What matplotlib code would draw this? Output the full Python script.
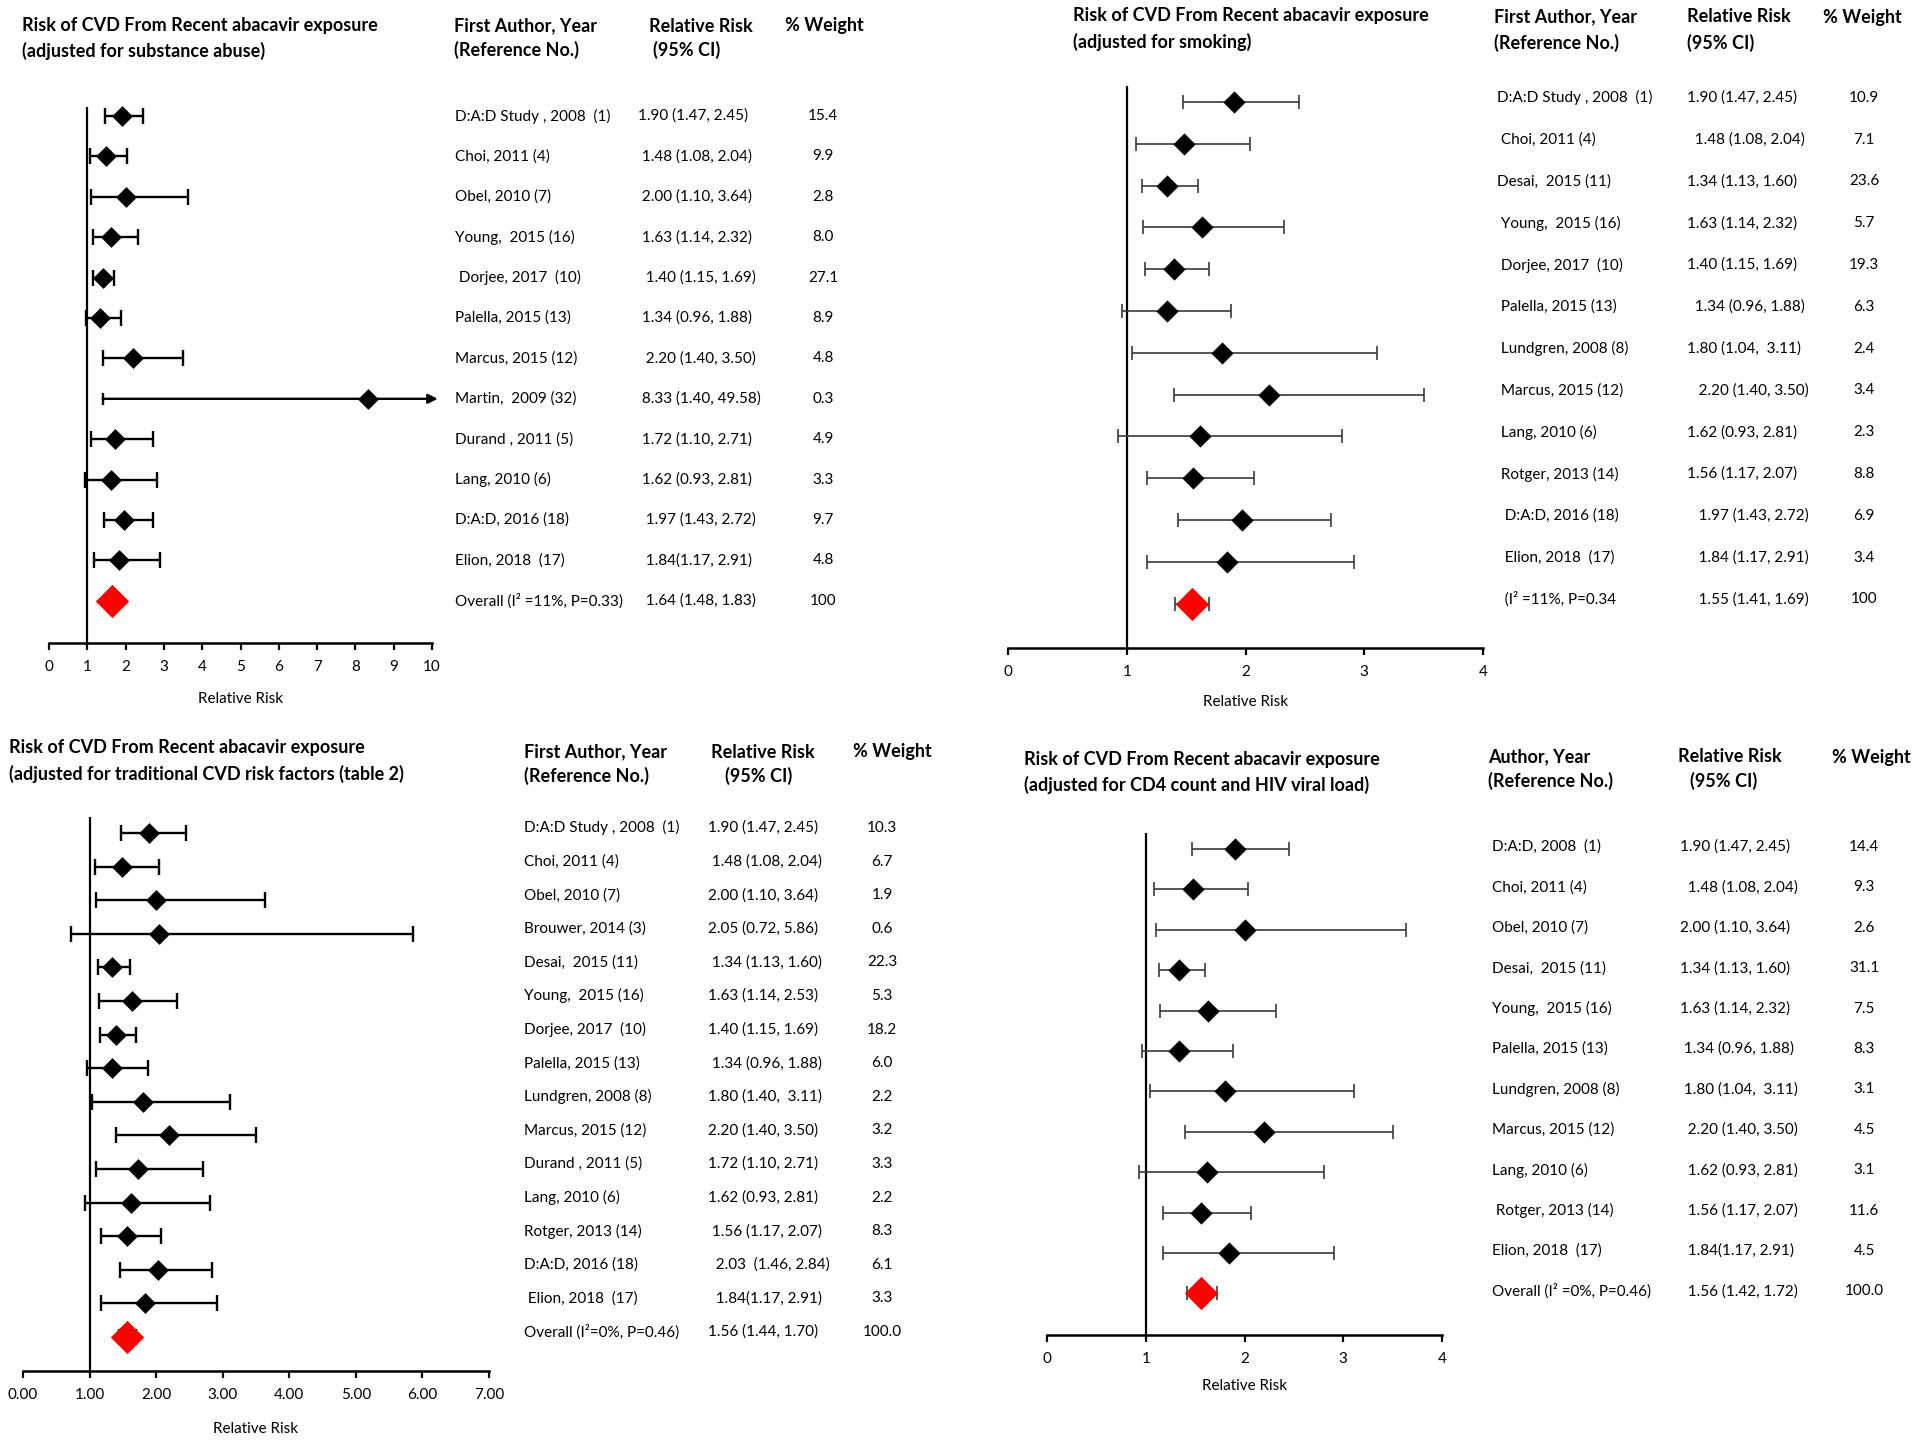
import matplotlib
matplotlib.use("Agg")
import matplotlib.pyplot as plt
import matplotlib.transforms as mtransforms
from matplotlib.ticker import FormatStrFormatter

plt.rcParams['font.family'] = ['Lato', 'DejaVu Sans']

W, H = 1920, 1442

# ---------------- data ----------------
# panel 1: adjusted for substance abuse
study1 = ["D:A:D Study , 2008  (1)", "Choi, 2011 (4)", "Obel, 2010 (7)", "Young,  2015 (16)",
          " Dorjee, 2017  (10)", "Palella, 2015 (13)", "Marcus, 2015 (12)", "Martin,  2009 (32)",
          "Durand , 2011 (5)", "Lang, 2010 (6)", "D:A:D, 2016 (18)", "Elion, 2018  (17)",
          "Overall (I² =11%, P=0.33)"]
rr1 = [1.90, 1.48, 2.00, 1.63, 1.40, 1.34, 2.20, 8.33, 1.72, 1.62, 1.97, 1.84, 1.64]
lo1 = [1.47, 1.08, 1.10, 1.14, 1.15, 0.96, 1.40, 1.40, 1.10, 0.93, 1.43, 1.17, 1.48]
hi1 = [2.45, 2.04, 3.64, 2.32, 1.69, 1.88, 3.50, 49.58, 2.71, 2.81, 2.72, 2.91, 1.83]
ci1 = ["1.90 (1.47, 2.45)", " 1.48 (1.08, 2.04)", " 2.00 (1.10, 3.64)", " 1.63 (1.14, 2.32)",
       "  1.40 (1.15, 1.69)", " 1.34 (0.96, 1.88)", "  2.20 (1.40, 3.50)", " 8.33 (1.40, 49.58)",
       " 1.72 (1.10, 2.71)", " 1.62 (0.93, 2.81)", "  1.97 (1.43, 2.72)", "  1.84(1.17, 2.91)",
       "  1.64 (1.48, 1.83)"]
wt1 = ["15.4", "9.9", "2.8", "8.0", "27.1", "8.9", "4.8", "0.3", "4.9", "3.3", "9.7", "4.8", "100"]

# panel 2: adjusted for smoking
study2 = ["D:A:D Study , 2008  (1)", " Choi, 2011 (4)", "Desai,  2015 (11)", " Young,  2015 (16)",
          " Dorjee, 2017  (10)", " Palella, 2015 (13)", " Lundgren, 2008 (8)", " Marcus, 2015 (12)",
          " Lang, 2010 (6)", " Rotger, 2013 (14)", "  D:A:D, 2016 (18)", "  Elion, 2018  (17)",
          "  (I² =11%, P=0.34"]
rr2 = [1.90, 1.48, 1.34, 1.63, 1.40, 1.34, 1.80, 2.20, 1.62, 1.56, 1.97, 1.84, 1.55]
lo2 = [1.47, 1.08, 1.13, 1.14, 1.15, 0.96, 1.04, 1.40, 0.93, 1.17, 1.43, 1.17, 1.41]
hi2 = [2.45, 2.04, 1.60, 2.32, 1.69, 1.88, 3.11, 3.50, 2.81, 2.07, 2.72, 2.91, 1.69]
ci2 = ["1.90 (1.47, 2.45)", "  1.48 (1.08, 2.04)", "1.34 (1.13, 1.60)", "1.63 (1.14, 2.32)",
       "1.40 (1.15, 1.69)", "  1.34 (0.96, 1.88)", "1.80 (1.04,  3.11)", "   2.20 (1.40, 3.50)",
       "1.62 (0.93, 2.81)", "1.56 (1.17, 2.07)", "   1.97 (1.43, 2.72)", "   1.84 (1.17, 2.91)",
       "   1.55 (1.41, 1.69)"]
wt2 = ["10.9", "7.1", "23.6", "5.7", "19.3", "6.3", "2.4", "3.4", "2.3", "8.8", "6.9", "3.4", "100"]

# panel 3: adjusted for traditional CVD risk factors
study3 = ["D:A:D Study , 2008  (1)", "Choi, 2011 (4)", "Obel, 2010 (7)", "Brouwer, 2014 (3)",
          "Desai,  2015 (11)", "Young,  2015 (16)", "Dorjee, 2017  (10)", "Palella, 2015 (13)",
          "Lundgren, 2008 (8)", "Marcus, 2015 (12)", "Durand , 2011 (5)", "Lang, 2010 (6)",
          "Rotger, 2013 (14)", "D:A:D, 2016 (18)", " Elion, 2018  (17)", "Overall (I²=0%, P=0.46)"]
rr3 = [1.90, 1.48, 2.00, 2.05, 1.34, 1.63, 1.40, 1.34, 1.80, 2.20, 1.72, 1.62, 1.56, 2.03, 1.84, 1.56]
lo3 = [1.47, 1.08, 1.10, 0.72, 1.13, 1.14, 1.15, 0.96, 1.04, 1.40, 1.10, 0.93, 1.17, 1.46, 1.17, 1.44]
hi3 = [2.45, 2.04, 3.64, 5.86, 1.60, 2.32, 1.69, 1.88, 3.11, 3.50, 2.71, 2.81, 2.07, 2.84, 2.91, 1.70]
ci3 = ["1.90 (1.47, 2.45)", " 1.48 (1.08, 2.04)", "2.00 (1.10, 3.64)", "2.05 (0.72, 5.86)",
       " 1.34 (1.13, 1.60)", "1.63 (1.14, 2.53)", "1.40 (1.15, 1.69)", " 1.34 (0.96, 1.88)",
       "1.80 (1.40,  3.11)", "2.20 (1.40, 3.50)", "1.72 (1.10, 2.71)", "1.62 (0.93, 2.81)",
       " 1.56 (1.17, 2.07)", "  2.03  (1.46, 2.84)", "  1.84(1.17, 2.91)", "1.56 (1.44, 1.70)"]
wt3 = ["10.3", "6.7", "1.9", "0.6", "22.3", "5.3", "18.2", "6.0", "2.2", "3.2", "3.3", "2.2",
       "8.3", "6.1", "3.3", "100.0"]

# panel 4: adjusted for CD4 count and HIV viral load
study4 = ["D:A:D, 2008  (1)", "Choi, 2011 (4)", "Obel, 2010 (7)", "Desai,  2015 (11)",
          "Young,  2015 (16)", "Palella, 2015 (13)", "Lundgren, 2008 (8)", "Marcus, 2015 (12)",
          "Lang, 2010 (6)", " Rotger, 2013 (14)", "Elion, 2018  (17)", "Overall (I² =0%, P=0.46)"]
rr4 = [1.90, 1.48, 2.00, 1.34, 1.63, 1.34, 1.80, 2.20, 1.62, 1.56, 1.84, 1.56]
lo4 = [1.47, 1.08, 1.10, 1.13, 1.14, 0.96, 1.04, 1.40, 0.93, 1.17, 1.17, 1.42]
hi4 = [2.45, 2.04, 3.64, 1.60, 2.32, 1.88, 3.11, 3.50, 2.81, 2.07, 2.91, 1.72]
ci4 = ["1.90 (1.47, 2.45)", "  1.48 (1.08, 2.04)", "2.00 (1.10, 3.64)", "1.34 (1.13, 1.60)",
       "1.63 (1.14, 2.32)", " 1.34 (0.96, 1.88)", " 1.80 (1.04,  3.11)", "  2.20 (1.40, 3.50)",
       "  1.62 (0.93, 2.81)", "  1.56 (1.17, 2.07)", "  1.84(1.17, 2.91)", "  1.56 (1.42, 1.72)"]
wt4 = ["14.4", "9.3", "2.6", "31.1", "7.5", "8.3", "3.1", "4.5", "3.1", "11.6", "4.5", "100.0"]

titles = [("Risk of CVD From Recent abacavir exposure", "(adjusted for substance abuse)"),
          ("Risk of CVD From Recent abacavir exposure", "(adjusted for smoking)"),
          ("Risk of CVD From Recent abacavir exposure", "(adjusted for traditional CVD risk factors (table 2)"),
          ("Risk of CVD From Recent abacavir exposure", "(adjusted for CD4 count and HIV viral load)")]
head_author = [("First Author, Year", "(Reference No.)"), ("First Author, Year", "(Reference No.)"),
               ("First Author, Year", "(Reference No.)"), ("Author, Year", "(Reference No.)")]
head_rr = ("Relative Risk", "(95% CI)")
head_wt = "% Weight"

# ---------------- layout (pixels in the 1920x1442 canvas) ----------------
panels = [
    dict(study=study1, rr=rr1, lo=lo1, hi=hi1, ci=ci1, wt=wt1, xmax=10, fmt="%d",
         x0=49, x1=432, top=107, bottom=643, row0=116, step=40.4, toff=0.0,
         tx=22, ty=(26, 51), ax_=455, cx=638, wx=823,
         hpos=[(454, 26), (454, 50), (649, 26), (653, 50), (785, 26)],
         ms=15, red_ms=24, ecol="black", elw=1.7, cap=6, lpad=13),
    dict(study=study2, rr=rr2, lo=lo2, hi=hi2, ci=ci2, wt=wt2, xmax=4, fmt="%d",
         x0=1008, x1=1483, top=86, bottom=648, row0=102, step=41.8, toff=-0.1,
         tx=1073, ty=(16, 42), ax_=1497, cx=1687, wx=1864,
         hpos=[(1494, 17), (1494, 43), (1687, 17), (1687, 43), (1823, 17)],
         ms=16, red_ms=24, ecol="#3a3a3a", elw=1.2, cap=5, lpad=11),
    dict(study=study3, rr=rr3, lo=lo3, hi=hi3, ci=ci3, wt=wt3, xmax=7, fmt="%.2f",
         x0=23, x1=489, top=817, bottom=1371, row0=833, step=33.6, toff=-0.15,
         tx=9, ty=(748, 774), ax_=524, cx=708, wx=882,
         hpos=[(524, 752), (524, 776), (711, 752), (725, 776), (853, 752)],
         ms=15, red_ms=24, ecol="black", elw=1.7, cap=6, lpad=14),
    dict(study=study4, rr=rr4, lo=lo4, hi=hi4, ci=ci4, wt=wt4, xmax=4, fmt="%d",
         x0=1047, x1=1442, top=833, bottom=1335, row0=849, step=40.4, toff=-0.05,
         tx=1024, ty=(759, 785), ax_=1492, cx=1680, wx=1864,
         hpos=[(1488, 757), (1488, 781), (1678, 757), (1690, 781), (1832, 757)],
         ms=16, red_ms=24, ecol="#3a3a3a", elw=1.2, cap=5, lpad=9),
]

diamond = [(0, 1), (1, 0), (0, -1), (-1, 0), (0, 1)]

fig = plt.figure(figsize=(W / 100, H / 100), dpi=100)

for k, p in enumerate(panels):
    ax = fig.add_axes([p["x0"] / W, 1 - p["bottom"] / H,
                       (p["x1"] - p["x0"]) / W, (p["bottom"] - p["top"]) / H])
    n = len(p["rr"])
    rows = list(range(n))
    ax.set_xlim(0, p["xmax"])
    ax.set_ylim((p["bottom"] - p["row0"]) / p["step"], (p["top"] - p["row0"]) / p["step"])
    for s in ["left", "right", "top"]:
        ax.spines[s].set_visible(False)
    ax.spines["bottom"].set_linewidth(1.8)
    ax.set_yticks([])
    ax.set_xticks(range(0, p["xmax"] + 1))
    ax.xaxis.set_major_formatter(FormatStrFormatter(p["fmt"]))
    ax.tick_params(axis="x", direction="out", length=5, width=1.6, pad=7.5, labelsize=11)
    ax.set_xlabel("Relative Risk", fontsize=11, labelpad=p["lpad"])
    ax.patch.set_alpha(0)
    ax.axvline(1, color="black", lw=1.6, zorder=1)

    for i in rows:
        rr, lo, hi = p["rr"][i], p["lo"][i], p["hi"][i]
        if hi > p["xmax"]:
            # CI runs off the scale: draw an arrow instead
            ax.annotate("", xy=(p["xmax"] + 0.15, i), xytext=(lo, i),
                        arrowprops=dict(arrowstyle="-|>", color=p["ecol"], lw=p["elw"],
                                        mutation_scale=14, shrinkA=0, shrinkB=0),
                        annotation_clip=False)
            ax.plot([lo], [i], marker="|", ms=p["cap"] * 1.5, mew=p["elw"], color=p["ecol"])
        else:
            ax.errorbar([rr], [i], xerr=[[rr - lo], [hi - rr]], fmt="none",
                        ecolor=p["ecol"], elinewidth=p["elw"], capsize=p["cap"],
                        capthick=p["elw"], zorder=2, clip_on=False)
        last = i == n - 1
        ax.plot([rr], [i], marker=diamond, ms=p["red_ms"] if last else p["ms"],
                color="#ff0000" if last else "black", mew=0, zorder=3, clip_on=False)

    tr = mtransforms.blended_transform_factory(fig.transFigure, ax.transData)
    for i in rows:
        y = i + p["toff"]
        ax.text(p["ax_"] / W, y, p["study"][i], transform=tr, fontsize=11, va="center", ha="left")
        ax.text(p["cx"] / W, y, p["ci"][i], transform=tr, fontsize=11, va="center", ha="left")
        ax.text(p["wx"] / W, y, p["wt"][i], transform=tr, fontsize=11, va="center", ha="center")

    # titles and column headers
    for line, y in zip(titles[k], p["ty"]):
        fig.text(p["tx"] / W, 1 - y / H, line, fontsize=13, fontweight="bold", va="center", ha="left")
    heads = [head_author[k][0], head_author[k][1], head_rr[0], head_rr[1], head_wt]
    for txt, (hx, hy) in zip(heads, p["hpos"]):
        fig.text(hx / W, 1 - hy / H, txt, fontsize=13, fontweight="bold", va="center", ha="left")

fig.savefig("out.png", dpi=100)
